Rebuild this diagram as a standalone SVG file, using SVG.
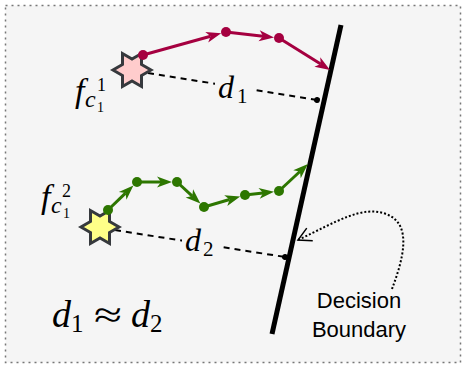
<svg xmlns="http://www.w3.org/2000/svg" width="466" height="366" viewBox="0 0 466 366">
  <style>
    .red { fill: none; stroke: #a50040; stroke-width: 3; }
    .green { fill: none; stroke: #2d7600; stroke-width: 3; }
    .dash { fill: none; stroke: #000; stroke-width: 2; stroke-dasharray: 6 5; }
    .dotted { fill: none; stroke: #000; stroke-width: 2; stroke-dasharray: 2 2; }
    .rdot { fill: #a50040; }
    .gdot { fill: #2d7600; }
    .star { stroke: #36393d; stroke-width: 3; stroke-linejoin: miter; }
    .math { font-family: "Liberation Serif", "DejaVu Serif", serif; font-style: italic; fill: #000; }
    .num { font-family: "Liberation Serif", "DejaVu Serif", serif; font-style: normal; fill: #000; }
    .lbl { font-family: "Liberation Sans", Arial, sans-serif; font-size: 22px; fill: #000; text-anchor: middle; }
  </style>
  <defs>
    <marker id="arrRed" markerUnits="userSpaceOnUse" markerWidth="15" markerHeight="11" refX="4" refY="5.5" orient="auto" overflow="visible">
      <path d="M0,0 L15,5.5 L0,11 L4,5.5 Z" fill="#a50040"/>
    </marker>
    <marker id="arrGreen" markerUnits="userSpaceOnUse" markerWidth="15" markerHeight="11" refX="4" refY="5.5" orient="auto" overflow="visible">
      <path d="M0,0 L15,5.5 L0,11 L4,5.5 Z" fill="#2d7600"/>
    </marker>
    <marker id="endDot" markerUnits="userSpaceOnUse" markerWidth="8" markerHeight="8" refX="4" refY="4" orient="auto" overflow="visible">
      <circle cx="4" cy="4" r="3" fill="#000"/>
    </marker>
    <marker id="openArr" markerUnits="userSpaceOnUse" markerWidth="14" markerHeight="14" refX="13" refY="7" orient="auto" overflow="visible">
      <path d="M0,0 L13,7 L0,14" fill="none" stroke="#000" stroke-width="1.5"/>
    </marker>
    <polygon id="hexstar" points="19,0 9.5,5.5 9.5,16.5 0,11 -9.5,16.5 -9.5,5.5 -19,0 -9.5,-5.5 -9.5,-16.5 0,-11 9.5,-16.5 9.5,-5.5"/>
  </defs>

  <rect id="background" x="5.5" y="5.5" width="455" height="357" fill="#f5f5f5" stroke="#777" stroke-width="1.5" stroke-dasharray="2 4"/>

  <g id="boundary">
    <line x1="341" y1="25" x2="272" y2="334" stroke="#000" stroke-width="5"/>
  </g>

  <g id="connectors">
    <!-- distance lines -->
    <line class="dash" x1="148" y1="73" x2="317" y2="100" marker-end="url(#endDot)"/>
    <line class="dash" x1="115" y1="230" x2="285" y2="257" marker-end="url(#endDot)"/>
    <!-- red trajectory -->
    <line class="red" x1="143" y1="55" x2="210.6" y2="36.2" marker-end="url(#arrRed)"/>
    <line class="red" x1="226" y1="32" x2="263.1" y2="36.2" marker-end="url(#arrRed)"/>
    <line class="red" x1="279" y1="38" x2="320.7" y2="64.1" marker-end="url(#arrRed)"/>
    <!-- green trajectory -->
    <line class="green" x1="108" y1="210" x2="125.5" y2="193.1" marker-end="url(#arrGreen)"/>
    <line class="green" x1="137" y1="182" x2="161" y2="182" marker-end="url(#arrGreen)"/>
    <line class="green" x1="177" y1="182" x2="192.3" y2="196.1" marker-end="url(#arrGreen)"/>
    <line class="green" x1="204" y1="207" x2="229.6" y2="199.5" marker-end="url(#arrGreen)"/>
    <line class="green" x1="245" y1="195" x2="263.1" y2="192.9" marker-end="url(#arrGreen)"/>
    <line class="green" x1="279" y1="191" x2="299.9" y2="171.5" marker-end="url(#arrGreen)"/>
    <!-- callout to decision boundary -->
    <path class="dotted" d="M392,289 C402,262 414,224 386,214 C362,205 336,222 298,240" marker-end="url(#openArr)"/>
  </g>

  <g id="star1">
    <use href="#hexstar" class="star" fill="#ffcccc" transform="translate(132,70)"/>
  </g>
  <g id="star2">
    <use href="#hexstar" class="star" fill="#ffff88" transform="translate(100,227)"/>
  </g>

  <g id="waypoints-red">
    <circle class="rdot" cx="143" cy="55" r="5"/>
    <circle class="rdot" cx="226" cy="32" r="5"/>
    <circle class="rdot" cx="279" cy="38" r="5"/>
  </g>
  <g id="waypoints-green">
    <circle class="gdot" cx="108" cy="210" r="5"/>
    <circle class="gdot" cx="137" cy="182" r="5"/>
    <circle class="gdot" cx="177" cy="182" r="5"/>
    <circle class="gdot" cx="204" cy="207" r="5"/>
    <circle class="gdot" cx="245" cy="195" r="5"/>
    <circle class="gdot" cx="279" cy="191" r="5"/>
  </g>

  <g id="label-f1">
    <text class="math" x="75" y="102" font-size="34">f</text>
    <text class="num" x="97" y="91" font-size="18">1</text>
    <text class="math" x="85" y="107" font-size="24">c</text>
    <text class="num" x="97" y="112" font-size="14">1</text>
  </g>
  <g id="label-f2">
    <text class="math" x="41" y="208" font-size="34">f</text>
    <text class="num" x="62" y="197" font-size="18">2</text>
    <text class="math" x="51" y="213" font-size="24">c</text>
    <text class="num" x="63" y="218" font-size="14">1</text>
  </g>

  <g id="label-d1">
    <rect x="215" y="74" width="37" height="32" fill="#f5f5f5"/>
    <text class="math" x="218" y="98" font-size="32">d</text>
    <text class="num" x="237" y="103" font-size="21">1</text>
  </g>
  <g id="label-d2">
    <rect x="182" y="226" width="37" height="32" fill="#f5f5f5"/>
    <text class="math" x="185" y="251" font-size="32">d</text>
    <text class="num" x="203" y="256" font-size="21">2</text>
  </g>

  <g id="label-relation">
    <text class="math" x="52" y="327" font-size="38">d</text>
    <text class="num" x="71" y="332" font-size="25">1</text>
    <text class="num" x="94" y="327" font-size="36" textLength="28" lengthAdjust="spacingAndGlyphs">≈</text>
    <text class="math" x="131" y="327" font-size="38">d</text>
    <text class="num" x="150" y="332" font-size="25">2</text>
  </g>

  <g id="label-decision-boundary">
    <text class="lbl" x="359" y="308">Decision</text>
    <text class="lbl" x="359" y="337">Boundary</text>
  </g>
</svg>
